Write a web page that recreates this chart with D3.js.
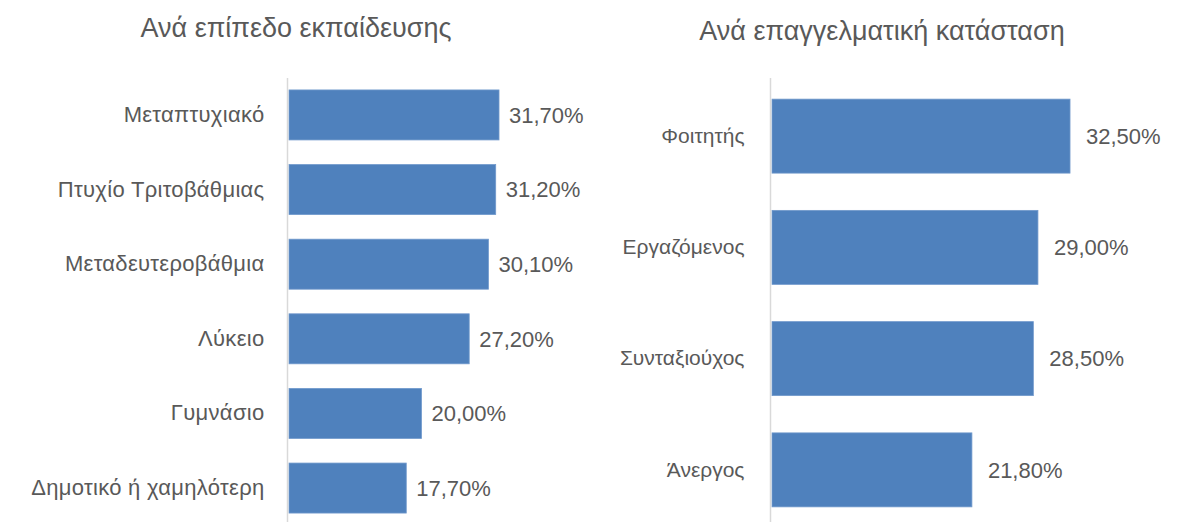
<!DOCTYPE html>
<html>
<head>
<meta charset="utf-8">
<script src="https://cdn.jsdelivr.net/npm/d3@7"></script>
<style>
  html, body { margin: 0; padding: 0; background: #fff; }
  svg { display: block; font-family: "Liberation Sans", Arial, sans-serif; }
</style>
</head>
<body>
<div id="chart"></div>
<script>
// data
const eduTitle = "Ανά επίπεδο εκπαίδευσης";
const eduCategories = ["Μεταπτυχιακό", "Πτυχίο Τριτοβάθμιας", "Μεταδευτεροβάθμια", "Λύκειο", "Γυμνάσιο", "Δημοτικό ή χαμηλότερη"];
const eduValues = [0.317, 0.312, 0.301, 0.272, 0.200, 0.177];

const jobTitle = "Ανά επαγγελματική  κατάσταση";
const jobCategories = ["Φοιτητής", "Εργαζόμενος", "Συνταξιούχος", "Άνεργος"];
const jobValues = [0.325, 0.290, 0.285, 0.218];

const WIDTH = 1192;
const HEIGHT = 522;
const TEXT = "#595959";
const BAR = "#4F81BD";

// greek number format: comma decimal
const fmt = d3.formatLocale({ decimal: ",", thousands: ".", grouping: [3], currency: ["", "€"] }).format(".2%");

const svg = d3.select("#chart").append("svg")
  .attr("width", WIDTH)
  .attr("height", HEIGHT);

function panel(opts) {
  const g = svg.append("g");

  const x = d3.scaleLinear()
    .domain([0, 0.35])
    .range([opts.x0, opts.x0 + opts.pxPerPct * 35]);

  const y = d3.scaleBand()
    .domain(opts.categories)
    .range([78, opts.bottom])
    .paddingInner(opts.padIn)
    .paddingOuter(opts.padOut);

  const data = opts.categories.map((c, i) => ({ cat: c, value: opts.values[i] }));

  g.append("text")
    .attr("x", opts.titleX)
    .attr("y", opts.titleY)
    .attr("text-anchor", "middle")
    .attr("fill", TEXT)
    .style("font-size", "27px")
    .text(opts.title);

  g.selectAll("rect")
    .data(data)
    .join("rect")
    .attr("x", x(0))
    .attr("y", d => y(d.cat))
    .attr("width", d => x(d.value) - x(0))
    .attr("height", y.bandwidth())
    .attr("fill", BAR)
    .attr("stroke", "#7199cc")
    .attr("stroke-width", 0.8);

  g.selectAll("text.val")
    .data(data)
    .join("text")
    .attr("class", "val")
    .attr("x", d => x(d.value) + opts.labelGap)
    .attr("y", d => y(d.cat) + y.bandwidth() / 2)
    .attr("dy", "0.35em")
    .attr("fill", TEXT)
    .style("font-size", "22px")
    .text(d => fmt(d.value));

  const axis = g.append("g")
    .attr("transform", `translate(${x(0) - 1.5},0)`)
    .call(d3.axisLeft(y).tickSize(0).tickSizeOuter(0).tickPadding(opts.tickPad));

  axis.select(".domain")
    .attr("stroke", "#d9d9d9")
    .attr("stroke-width", 1.5)
    .attr("d", `M0,78V${HEIGHT}`);

  axis.selectAll(".tick text")
    .attr("fill", TEXT)
    .style("font-size", opts.tickFont)
    .style("letter-spacing", opts.tickSpacing)
    .style("font-family", "\"Liberation Sans\", Arial, sans-serif");
}

panel({
  title: eduTitle, categories: eduCategories, values: eduValues,
  x0: 289, pxPerPct: 6.625, bottom: 525, padIn: 0.33, padOut: 0.16,
  titleX: 296, titleY: 37, labelGap: 10, tickPad: 23,
  tickFont: "22px", tickSpacing: "0.3px"
});

panel({
  title: jobTitle, categories: jobCategories, values: jobValues,
  x0: 772, pxPerPct: 9.17, bottom: 528, padIn: 0.335, padOut: 0.19,
  titleX: 882, titleY: 40, labelGap: 16, tickPad: 26,
  tickFont: "21px", tickSpacing: "0px"
});
</script>
</body>
</html>
